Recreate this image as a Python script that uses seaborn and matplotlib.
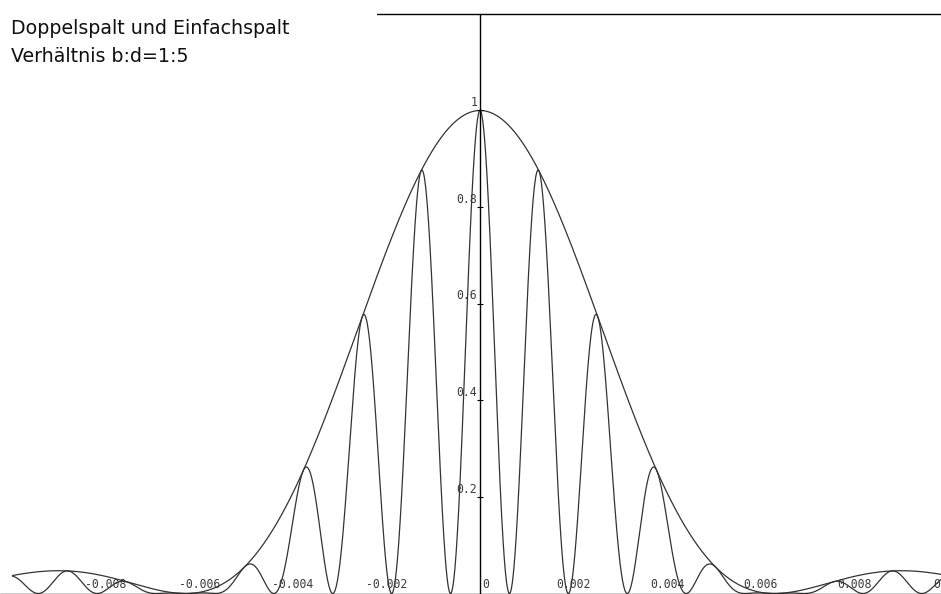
import numpy as np
import pandas as pd
import matplotlib
matplotlib.use("Agg")
import matplotlib.pyplot as plt
import seaborn as sns

# Slit geometry: ratio of slit width b to slit spacing d
ratio_b_d = [1, 5]
# Fringe spacing of the double-slit pattern (position of first side maximum)
fringe_spacing = 0.00126
# Range over which the intensity curves are evaluated
x_range = [-0.01, 0.01]

# Axis labelling
x_ticks = [-0.008, -0.006, -0.004, -0.002, 0.0, 0.002, 0.004, 0.006, 0.008, 0.01]
x_tick_labels = ["-0.008", "-0.006", "-0.004", "-0.002", "0", "0.002", "0.004",
                 "0.006", "0.008", "0.01"]
y_ticks = [0.2, 0.4, 0.6, 0.8, 1.0]
y_tick_labels = ["0.2", "0.4", "0.6", "0.8", "1"]
title_lines = ["Doppelspalt und Einfachspalt", "Verhältnis b:d=1:5"]

sns.set_style("white")
plt.rcParams["font.family"] = ["DejaVu Sans"]

# Intensity of single slit (envelope) and double slit
x = np.linspace(x_range[0], x_range[1], 6001)
envelope_zero = fringe_spacing * ratio_b_d[1] / ratio_b_d[0]
single = np.sinc(x / envelope_zero) ** 2
double = single * np.cos(np.pi * x / fringe_spacing) ** 2
df = pd.DataFrame({"x": x, "Einfachspalt": single, "Doppelspalt": double})

W, H = 941, 594
fig = plt.figure(figsize=(W / 100, H / 100), dpi=100)
ax = fig.add_axes([0, 0, 1, 1])

px_per_unit_x = 46750.0
x0_px = 480.0
px_per_unit_y = 483.0
ax.set_xlim(-x0_px / px_per_unit_x, (W - x0_px) / px_per_unit_x)
ylo = -0.5 / px_per_unit_y
yhi = (H - 0.5) / px_per_unit_y
ax.set_ylim(ylo, yhi)
ax.set_axis_off()

curve_color = "#333333"
sns.lineplot(data=df, x="x", y="Einfachspalt", ax=ax, color=curve_color,
             linewidth=0.9, estimator=None, sort=False)
sns.lineplot(data=df, x="x", y="Doppelspalt", ax=ax, color=curve_color,
             linewidth=0.9, estimator=None, sort=False)

# Coordinate axes and upper frame line
y_top = 1.2
ax.axhline(0, color="black", linewidth=1.0)
ax.axvline(0, ymin=0, ymax=(y_top - ylo) / (yhi - ylo), color="black", linewidth=1.0)
ax.axhline(y_top, xmin=377 / W, xmax=1, color="black", linewidth=1.0)

tick_font = dict(family="DejaVu Sans Mono", fontsize=8.3, color="#3a3a3a")

# y tick marks and labels next to the vertical axis
ax.scatter([0] * len(y_ticks), y_ticks, marker="_", s=25, color="black",
           linewidths=0.8, zorder=3)
for v, lab in zip(y_ticks, y_tick_labels):
    ax.annotate(lab, (0, v), xytext=(-2, 1), textcoords="offset points",
                ha="right", va="bottom", annotation_clip=False, **tick_font)

# x tick labels sitting on the horizontal axis
for v, lab in zip(x_ticks, x_tick_labels):
    if v == 0:
        ax.annotate(lab, (v, 0), xytext=(1.5, 1.5), textcoords="offset points",
                    ha="left", va="bottom", annotation_clip=False, **tick_font)
    else:
        ax.annotate(lab, (v, 0), xytext=(0, 1.5), textcoords="offset points",
                    ha="center", va="bottom", annotation_clip=False, **tick_font)

# Heading in the upper left corner
for i, line in enumerate(title_lines):
    fig.text(11 / W, 1 - (34 + 28 * i) / H, line, ha="left", va="baseline",
             fontsize=13.7, color="#111111", family="DejaVu Sans")

fig.savefig("out.png", dpi=100, facecolor="white")
